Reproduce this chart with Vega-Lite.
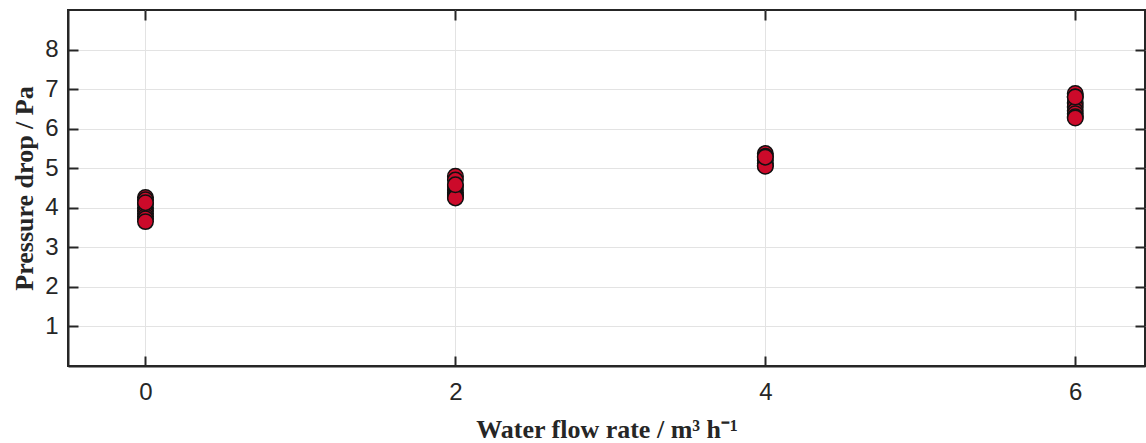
{
  "$schema": "https://vega.github.io/schema/vega-lite/v6.json",
  "width": 1077,
  "height": 356,
  "autosize": {"type": "none"},
  "padding": {"left": 68, "top": 10, "right": 1, "bottom": 77},
  "background": "white",
  "config": {
    "view": {"stroke": "#262626", "strokeWidth": 2}
  },
  "data": {
    "values": [
      {"flow": 0, "dp": 4.26}, {"flow": 0, "dp": 4.20}, {"flow": 0, "dp": 4.10}, {"flow": 0, "dp": 4.00},
      {"flow": 0, "dp": 3.92}, {"flow": 0, "dp": 3.85}, {"flow": 0, "dp": 3.78}, {"flow": 0, "dp": 3.72},
      {"flow": 0, "dp": 3.65}, {"flow": 0, "dp": 4.13},
      {"flow": 2, "dp": 4.80}, {"flow": 2, "dp": 4.70}, {"flow": 2, "dp": 4.55}, {"flow": 2, "dp": 4.45},
      {"flow": 2, "dp": 4.38}, {"flow": 2, "dp": 4.32}, {"flow": 2, "dp": 4.27}, {"flow": 2, "dp": 4.25},
      {"flow": 2, "dp": 4.58},
      {"flow": 4, "dp": 5.37}, {"flow": 4, "dp": 5.30}, {"flow": 4, "dp": 5.20}, {"flow": 4, "dp": 5.12},
      {"flow": 4, "dp": 5.07}, {"flow": 4, "dp": 5.05}, {"flow": 4, "dp": 5.28},
      {"flow": 6, "dp": 6.89}, {"flow": 6, "dp": 6.80}, {"flow": 6, "dp": 6.65}, {"flow": 6, "dp": 6.55},
      {"flow": 6, "dp": 6.45}, {"flow": 6, "dp": 6.38}, {"flow": 6, "dp": 6.30}, {"flow": 6, "dp": 6.27},
      {"flow": 6, "dp": 6.80}
    ]
  },
  "resolve": {"axis": {"x": "independent", "y": "independent"}},
  "layer": [
    {
      "mark": {"type": "point", "opacity": 0},
      "encoding": {
        "x": {"field": "flow", "type": "quantitative", "scale": {"domain": [-0.5, 6.45], "nice": false, "zero": false},
              "axis": {"orient": "top", "values": [0, 2, 4, 6], "labels": false, "grid": false, "title": null, "domain": false,
                       "ticks": true, "tickSize": -10, "tickWidth": 2, "tickColor": "#262626"}},
        "y": {"field": "dp", "type": "quantitative", "scale": {"domain": [0, 9], "nice": false, "zero": false},
              "axis": {"orient": "right", "values": [1, 2, 3, 4, 5, 6, 7, 8], "labels": false, "grid": false, "title": null, "domain": false,
                       "ticks": true, "tickSize": -10, "tickWidth": 2, "tickColor": "#262626"}}
      }
    },
    {
      "mark": {"type": "circle", "size": 240, "color": "#cc0a2a", "opacity": 1, "stroke": "#111111", "strokeWidth": 1.5},
      "encoding": {
        "x": {"field": "flow", "type": "quantitative",
              "axis": {"orient": "bottom", "values": [0, 2, 4, 6], "grid": true, "gridColor": "#e3e3e3", "gridWidth": 1,
                       "title": "Water flow rate / m³ h⁻¹",
                       "domainColor": "#262626", "domainWidth": 2, "tickColor": "#262626", "tickWidth": 2, "tickSize": -10,
                       "labelFont": "Liberation Sans", "labelFontSize": 24, "labelColor": "#262626", "labelPadding": 24,
                       "titleFont": "Liberation Serif", "titleFontWeight": "bold", "titleFontSize": 26, "titleColor": "#262626", "titlePadding": 12}},
        "y": {"field": "dp", "type": "quantitative",
              "axis": {"orient": "left", "values": [1, 2, 3, 4, 5, 6, 7, 8], "grid": true, "gridColor": "#e3e3e3", "gridWidth": 1,
                       "title": "Pressure drop / Pa",
                       "domainColor": "#262626", "domainWidth": 2, "tickColor": "#262626", "tickWidth": 2, "tickSize": -10,
                       "labelFont": "Liberation Sans", "labelFontSize": 24, "labelColor": "#262626", "labelPadding": 20,
                       "titleFont": "Liberation Serif", "titleFontWeight": "bold", "titleFontSize": 26, "titleColor": "#262626", "titlePadding": 7}}
      }
    }
  ]
}
